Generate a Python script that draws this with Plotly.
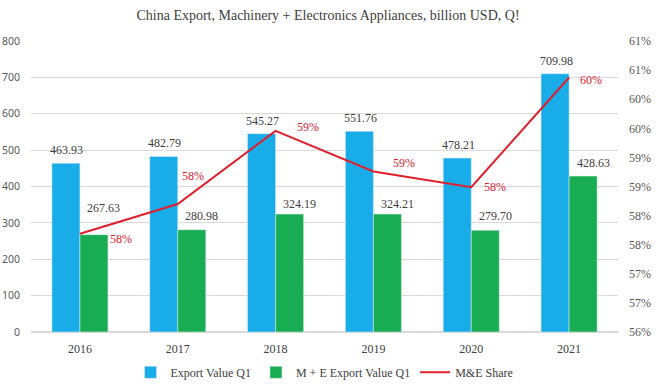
import plotly.graph_objects as go

years = ["2016", "2017", "2018", "2019", "2020", "2021"]
export_value = [463.93, 482.79, 545.27, 551.76, 478.21, 709.98]
me_value = [267.63, 280.98, 324.19, 324.21, 279.70, 428.63]
share = [m / e * 100 for m, e in zip(me_value, export_value)]

left_ticks = [0, 100, 200, 300, 400, 500, 600, 700, 800]

# label offsets (pixels) for the share labels and M+E labels
share_off = [(41, -5), (15, 28), (32, 4), (31, 8), (24, 0), (22, -2)]
me_yshift = [27, 14, 10, 10, 14, 13]

BLUE = "#18ACE8"
GREEN = "#18AD52"
RED = "#E1202C"
FONT = "Liberation Serif"

fig = go.Figure()
fig.add_trace(go.Bar(x=years, y=export_value, name="Export Value Q1",
                     marker_color=BLUE, yaxis="y"))
fig.add_trace(go.Bar(x=years, y=me_value, name="M + E Export Value Q1",
                     marker_color=GREEN, yaxis="y"))
fig.add_trace(go.Scatter(x=years, y=share, name="M&E Share", mode="lines",
                         line=dict(color=RED, width=2), yaxis="y2"))

ann = []
for i, yr in enumerate(years):
    ann.append(dict(x=i, y=export_value[i], xref="x", yref="y", text=f"{export_value[i]:.2f}",
                    showarrow=False, xshift=-13, yshift=13,
                    font=dict(family=FONT, size=12, color="#404040")))
    ann.append(dict(x=i, y=me_value[i], xref="x", yref="y", text=f"{me_value[i]:.2f}",
                    showarrow=False, xshift=24, yshift=me_yshift[i],
                    font=dict(family=FONT, size=12, color="#404040")))
    dx, dy = share_off[i]
    ann.append(dict(x=i, y=share[i], xref="x", yref="y2", text=f"{share[i]:.0f}%",
                    showarrow=False, xshift=dx, yshift=dy,
                    font=dict(family=FONT, size=12, color=RED)))

fig.update_layout(
    width=656, height=387,
    margin=dict(l=31, r=38, t=41, b=55, autoexpand=False),
    paper_bgcolor="white", plot_bgcolor="white",
    font=dict(family=FONT, size=12, color="#595959"),
    title=dict(text="China Export, Machinery + Electronics Appliances, billion USD, Q!",
               x=0.5, xanchor="center", y=0.961, yanchor="middle",
               font=dict(family=FONT, size=14, color="#404040")),
    barmode="group", bargap=0.427, bargroupgap=0,
    xaxis=dict(type="category", showgrid=False, ticks="", showline=False,
               ticklabelstandoff=8, tickfont=dict(size=12, color="#404040")),
    yaxis=dict(range=[0, 800], tickvals=left_ticks, showgrid=True, gridcolor="#D9D9D9",
               gridwidth=1, zeroline=True, zerolinecolor="#D9D9D9", ticks="",
               automargin=False, ticklabelstandoff=10,
               tickfont=dict(family="Noto Sans", size=10.5, color="#595959")),
    yaxis2=dict(range=[56, 61], dtick=0.5, tick0=56, overlaying="y", side="right",
                showgrid=False, zeroline=False, tickformat=".0f", ticksuffix="%",
                automargin=False, ticks="", ticklabelstandoff=10,
                tickfont=dict(size=12, color="#595959")),
    legend=dict(orientation="h", x=0.5, xanchor="center", y=0.038, yanchor="middle",
                yref="container",
                font=dict(family=FONT, size=12, color="#404040"), traceorder="normal"),
    annotations=ann,
)

fig.write_html("out.html", config={"displayModeBar": False},
               post_script="document.body.style.margin='0';")
